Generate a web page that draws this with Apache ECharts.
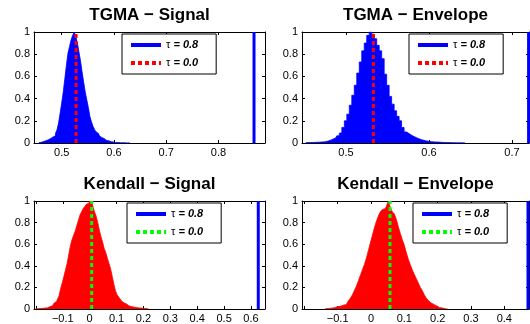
<!DOCTYPE html>
<html>
<head>
<meta charset="utf-8">
<script src="https://cdn.jsdelivr.net/npm/echarts@6/dist/echarts.min.js"></script>
</head>
<body style="margin:0">
<div id="main" style="width:530px;height:324px"></div>
<script>
var titles = ['TGMA \u2212 Signal', 'TGMA \u2212 Envelope', 'Kendall \u2212 Signal', 'Kendall \u2212 Envelope'];
var tauNames = ['0.8', '0.0'];
var yTicks = [0, 0.2, 0.4, 0.6, 0.8, 1];

// histograms, normalised so the tallest bin is 1
var tgmaSignalStart = 0.455, tgmaSignalBin = 0.003;
var tgmaSignalHist = [0.004, 0.006, 0.01, 0.014, 0.02, 0.024, 0.03, 0.04, 0.045, 0.055,
  0.065, 0.085, 0.12, 0.18, 0.27, 0.36, 0.46, 0.58, 0.7, 0.81,
  0.87, 0.93, 0.97, 1.0, 0.96, 0.9, 0.82, 0.74, 0.64, 0.55,
  0.46, 0.39, 0.32, 0.24, 0.19, 0.15, 0.12, 0.1, 0.085, 0.065,
  0.05, 0.04, 0.032, 0.025, 0.02, 0.015, 0.012, 0.009, 0.007, 0.005,
  0.004, 0.003, 0.003, 0.002, 0.002, 0.002, 0.001, 0.001, 0.001];

var tgmaEnvelopeStart = 0.450, tgmaEnvelopeBin = 0.003;
var tgmaEnvelopeHist = [0.003, 0.004, 0.004, 0.005, 0.006, 0.007, 0.008, 0.01, 0.012, 0.018,
  0.025, 0.035, 0.045, 0.065, 0.09, 0.14, 0.2, 0.26, 0.34, 0.43,
  0.52, 0.63, 0.73, 0.83, 0.9, 0.97, 1.0, 0.98, 0.94, 0.88,
  0.83, 0.76, 0.62, 0.52, 0.42, 0.35, 0.29, 0.24, 0.2, 0.14,
  0.1, 0.085, 0.07, 0.058, 0.048, 0.038, 0.03, 0.024, 0.019, 0.015,
  0.012, 0.01, 0.009, 0.008, 0.006, 0.005, 0.004, 0.004, 0.003, 0.003,
  0.002, 0.002, 0.002, 0.002, 0.001];

var kendallSignalStart = -0.204, kendallSignalBin = 0.006;
var kendallSignalHist = [0.003, 0.003, 0.004, 0.005, 0.006, 0.007, 0.009, 0.011, 0.016, 0.022,
  0.03, 0.04, 0.055, 0.07, 0.09, 0.12, 0.19, 0.24, 0.3, 0.36,
  0.42, 0.5, 0.58, 0.64, 0.68, 0.72, 0.77, 0.82, 0.87, 0.9,
  0.93, 0.95, 0.97, 0.98, 1.0, 0.99, 0.95, 0.9, 0.86, 0.8,
  0.73, 0.67, 0.62, 0.56, 0.52, 0.47, 0.42, 0.37, 0.3, 0.23,
  0.17, 0.13, 0.11, 0.09, 0.07, 0.055, 0.045, 0.035, 0.028, 0.023,
  0.02, 0.017, 0.014, 0.012, 0.01, 0.009, 0.007, 0.005, 0.004, 0.003,
  0.002];

var kendallEnvelopeStart = -0.140, kendallEnvelopeBin = 0.006;
var kendallEnvelopeHist = [0.003, 0.004, 0.005, 0.008, 0.012, 0.016, 0.02, 0.025, 0.03, 0.035,
  0.042, 0.055, 0.075, 0.1, 0.13, 0.17, 0.21, 0.26, 0.31, 0.36,
  0.41, 0.47, 0.54, 0.61, 0.68, 0.75, 0.81, 0.86, 0.9, 0.92,
  0.93, 0.95, 1.0, 0.94, 0.9, 0.88, 0.83, 0.76, 0.7, 0.64,
  0.59, 0.52, 0.46, 0.41, 0.36, 0.32, 0.28, 0.24, 0.2, 0.17,
  0.13, 0.1, 0.08, 0.06, 0.045, 0.03, 0.02, 0.014, 0.009, 0.006,
  0.004, 0.002];

// tau = 0.8 value, tau = 0.0 value
var tgmaSignalTau = [0.868, 0.5275];
var tgmaEnvelopeTau = [0.72, 0.533];
var kendallSignalTau = [0.627, 0.0074];
var kendallEnvelopeTau = [0.471, 0.057];

var font = 'Liberation Sans, Arial, sans-serif';
var chart = echarts.init(document.getElementById('main'));

var panels = [
  {hist: tgmaSignalHist, start: tgmaSignalStart, bin: tgmaSignalBin, tau: tgmaSignalTau,
   color: '#0000ff', dot: '#ff0000', grid: [34, 32, 231], legend: [122, 34], x: [0.447, 0.889]},
  {hist: tgmaEnvelopeHist, start: tgmaEnvelopeStart, bin: tgmaEnvelopeBin, tau: tgmaEnvelopeTau,
   color: '#0000ff', dot: '#ff0000', grid: [302, 32, 227], legend: [409, 34], x: [0.447, 0.7205]},
  {hist: kendallSignalHist, start: kendallSignalStart, bin: kendallSignalBin, tau: kendallSignalTau,
   color: '#ff0000', dot: '#00ff00', grid: [34, 201, 231], legend: [127, 203], x: [-0.207, 0.652]},
  {hist: kendallEnvelopeHist, start: kendallEnvelopeStart, bin: kendallEnvelopeBin, tau: kendallEnvelopeTau,
   color: '#ff0000', dot: '#00ff00', grid: [302, 201, 227], legend: [413, 203], x: [-0.207, 0.474]}
];

function xLabel(v) {
  // only multiples of 0.1, and no label for the tick sitting at the left frame
  if (Math.abs(v * 10 - Math.round(v * 10)) > 1e-6 || v < -0.15) return '';
  return String(Math.round(v * 10) / 10).replace('-', '\u2212');
}

var grids = [], xAxes = [], yAxes = [], series = [], legends = [];
var tick = {show: true, inside: true, length: 3, lineStyle: {color: '#000'}};
var line = {show: true, onZero: false, lineStyle: {color: '#000', width: 1}};

panels.forEach(function (p, i) {
  grids.push({left: p.grid[0], top: p.grid[1], width: p.grid[2], height: 111});

  xAxes.push({gridIndex: i, type: 'value', min: p.x[0], max: p.x[1], minInterval: 0.1, maxInterval: 0.1,
    axisLine: line, axisTick: tick, splitLine: {show: false},
    axisLabel: {color: '#000', fontSize: 11, fontFamily: font, margin: 4, formatter: xLabel,
      showMinLabel: false, showMaxLabel: false}});
  xAxes.push({gridIndex: i, type: 'value', position: 'top', min: p.x[0], max: p.x[1], minInterval: 0.1, maxInterval: 0.1,
    axisLine: line, axisTick: tick, splitLine: {show: false}, axisLabel: {show: false},
    name: titles[i], nameLocation: 'middle', nameGap: 8,
    nameTextStyle: {color: '#000', fontSize: 17, fontWeight: 'bold', fontFamily: font}});

  yAxes.push({gridIndex: i, type: 'value', min: 0, max: 1, interval: 0.2,
    axisLine: line, axisTick: tick, splitLine: {show: false},
    axisLabel: {color: '#000', fontSize: 11, fontFamily: font, margin: 4}});
  yAxes.push({gridIndex: i, type: 'value', position: 'right', min: 0, max: 1, interval: 0.2,
    axisLine: line, axisTick: tick, splitLine: {show: false}, axisLabel: {show: false}});

  var pts = [];
  for (var k = 0; k < p.hist.length; k++) {
    pts.push([p.start + (k + 0.5) * p.bin, p.hist[k]]);
  }
  series.push({type: 'line', xAxisIndex: 2 * i, yAxisIndex: 2 * i, step: 'middle', symbol: 'none',
    data: pts, silent: true, z: 2,
    lineStyle: {color: p.color, width: 0.8}, itemStyle: {color: p.color},
    areaStyle: {color: p.color, opacity: 1}});

  series.push({type: 'line', name: 'p' + i + 'a', xAxisIndex: 2 * i, yAxisIndex: 2 * i, symbol: 'none',
    data: [[p.tau[0], 0], [p.tau[0], 1]], z: 3,
    lineStyle: {color: '#0000ff', width: 3}, itemStyle: {color: '#0000ff'}});
  series.push({type: 'line', name: 'p' + i + 'b', xAxisIndex: 2 * i, yAxisIndex: 2 * i, symbol: 'none',
    data: [[p.tau[1], 0], [p.tau[1], 1]], z: 4,
    lineStyle: {color: p.dot, width: 3, type: [4, 3]}, itemStyle: {color: p.dot}});

  legends.push({orient: 'vertical', left: p.legend[0], top: p.legend[1],
    data: [{name: 'p' + i + 'a', lineStyle: {width: 4}}, {name: 'p' + i + 'b', lineStyle: {width: 4}}],
    selectedMode: false, itemWidth: 30, itemHeight: 12, itemGap: 4, padding: [4, 18, 4, 7],
    borderColor: '#000', borderWidth: 1, backgroundColor: '#fff',
    itemStyle: {opacity: 0},
    formatter: function (name) {
      return '{t|\u03c4} {v|= ' + (name.slice(-1) === 'a' ? tauNames[0] : tauNames[1]) + '}';
    },
    textStyle: {color: '#000', fontSize: 11, fontFamily: font, lineHeight: 14,
      rich: {t: {fontSize: 11, fontFamily: font, color: '#000'},
             v: {fontSize: 11, fontFamily: font, color: '#000', fontStyle: 'italic', fontWeight: 'bold'}}}});
});

chart.setOption({
  animation: false,
  grid: grids,
  xAxis: xAxes,
  yAxis: yAxes,
  legend: legends,
  series: series
});
</script>
</body>
</html>
